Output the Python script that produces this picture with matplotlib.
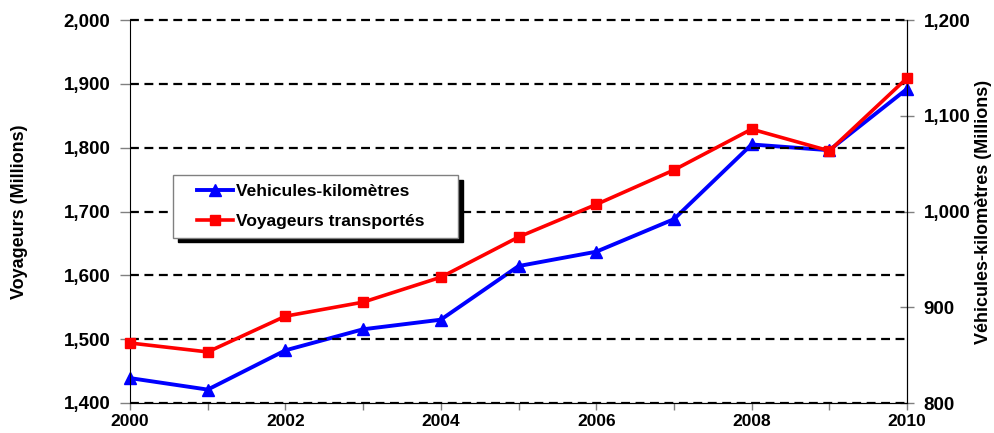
import matplotlib
matplotlib.use("Agg")
import matplotlib.pyplot as plt
from matplotlib.ticker import FuncFormatter
from matplotlib.legend_handler import HandlerLine2D

years = [2000, 2001, 2002, 2003, 2004, 2005, 2006, 2007, 2008, 2009, 2010]
voyageurs = [1494, 1480, 1536, 1558, 1597, 1660, 1711, 1765, 1829, 1795, 1909]
veh_km = [826, 814, 855, 877, 887, 943, 958, 992, 1070, 1064, 1128]
xtick_labels = ["2000", "", "2002", "", "2004", "", "2006", "", "2008", "", "2010"]

plt.rcParams['font.family'] = ['Liberation Sans', 'DejaVu Sans']
plt.rcParams['font.weight'] = 'bold'

fig = plt.figure(figsize=(9.95, 4.33), dpi=100)
ax = fig.add_axes([130 / 995, 30 / 433, 777 / 995, 383 / 433])
ax2 = ax.twinx()

# axe gauche au-dessus pour que la courbe rouge passe devant
ax.set_zorder(ax2.get_zorder() + 1)
ax.patch.set_visible(False)

l1, = ax2.plot(years, veh_km, color='#0000ff', lw=2.8, marker='^', ms=9,
               label='Vehicules-kilomètres', clip_on=False, zorder=3)
l2, = ax.plot(years, voyageurs, color='#ff0000', lw=2.6, marker='s', ms=6.5,
              label='Voyageurs transportés', clip_on=False, zorder=3)

ax.set_xlim(2000, 2010)
ax.set_ylim(1400, 2000)
ax2.set_ylim(800, 1200)
ax.set_yticks(range(1400, 2001, 100))
ax2.set_yticks(range(800, 1201, 100))
ax.set_xticks(years)
ax.set_xticklabels(xtick_labels)

fmt = FuncFormatter(lambda v, p: f"{int(v):,}")
ax.yaxis.set_major_formatter(fmt)
ax2.yaxis.set_major_formatter(fmt)

for a in (ax, ax2):
    a.spines['top'].set_visible(False)
    a.tick_params(labelsize=13.5, colors='gray', labelcolor='black', width=1)
ax.tick_params(axis='y', direction='out', length=7, pad=7)
ax.tick_params(axis='x', direction='out', length=5, pad=3, labelsize=12.5)
ax2.tick_params(axis='y', direction='inout', length=10, pad=7)
ax2.spines['left'].set_visible(False)

ax.grid(axis='y', color='black', linestyle=(0, (4, 2.5)), lw=1.6)
ax.set_axisbelow(True)
ax.yaxis.get_gridlines()[-1].set_clip_on(False)

ax.set_ylabel('Voyageurs (Millions)', fontsize=13, fontweight='bold')
ax2.set_ylabel('Véhicules-kilomètres (Millions)', fontsize=13, fontweight='bold')
ax.yaxis.set_label_coords(-0.131, 0.5)
ax2.yaxis.set_label_coords(1.0875, 0.5)

hmap = {l1: HandlerLine2D(xpad=0.9), l2: HandlerLine2D(xpad=0.9)}
leg = ax.legend(handles=[l1, l2],
                labels=['Vehicules-kilomètres     ', 'Voyageurs transportés     '],
                handler_map=hmap, loc='upper left', bbox_to_anchor=(0.055, 0.595),
                borderaxespad=0, fancybox=False, fontsize=12.5, handlelength=3.0,
                handletextpad=0.15, labelspacing=0.85, borderpad=0.5,
                shadow={'ox': 3.5, 'oy': -3.5, 'facecolor': 'black',
                        'edgecolor': 'black', 'alpha': 1})
leg.get_frame().set_edgecolor('gray')
leg.get_frame().set_linewidth(1)

fig.savefig('out.png', dpi=100)
